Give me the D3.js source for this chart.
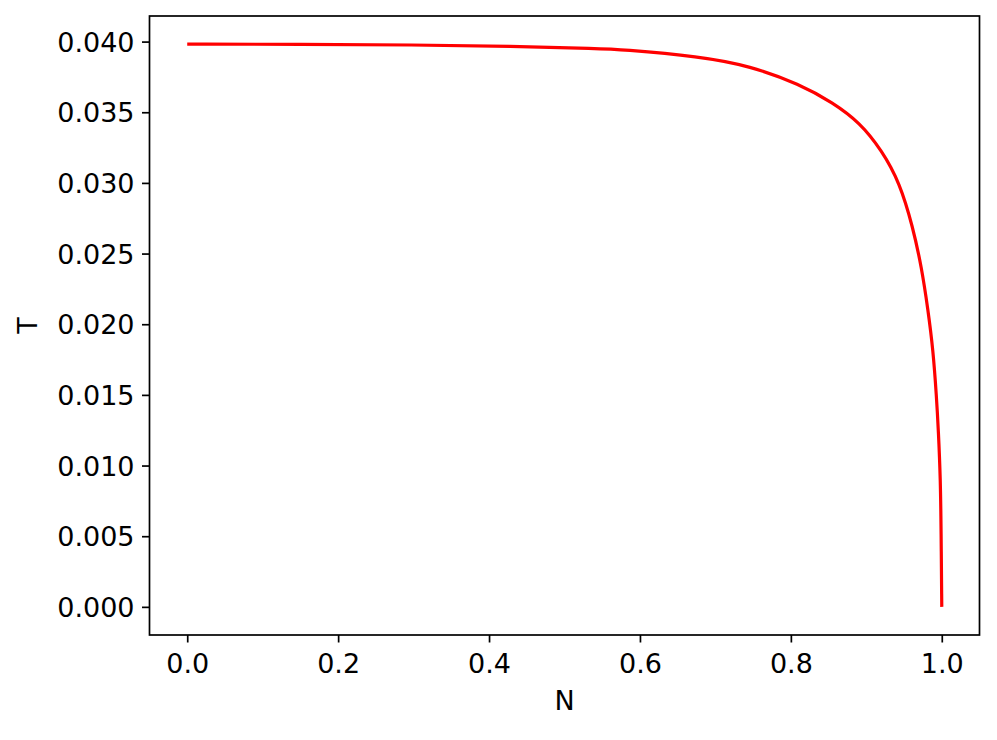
<!DOCTYPE html>
<html>
<head>
<meta charset="utf-8">
<script src="https://cdn.jsdelivr.net/npm/d3@7"></script>
<style>
  html, body { margin: 0; padding: 0; background: #fff; }
  svg { display: block; }
  text { font-family: "DejaVu Sans", sans-serif; fill: #000; }
</style>
</head>
<body>
<svg id="chart" width="997" height="740"></svg>
<script>
// Values
const nValues = [0.0, 0.15, 0.30, 0.43, 0.547, 0.5735, 0.6795, 0.7457, 0.8119, 0.8556, 0.8914, 0.9205, 0.9444, 0.9616, 0.9731, 0.9818, 0.9885, 0.9930, 0.9955, 0.9983, 0.9991, 1.0];
const tValues = [0.03982, 0.03981, 0.03977, 0.03967, 0.03950, 0.03945, 0.03894, 0.03828, 0.03698, 0.03568, 0.03427, 0.03230, 0.03000, 0.02688, 0.02407, 0.02101, 0.01817, 0.01487, 0.01251, 0.00897, 0.00543, 0.0];
const xTicks = [0.0, 0.2, 0.4, 0.6, 0.8, 1.0];
const yTicks = [0.000, 0.005, 0.010, 0.015, 0.020, 0.025, 0.030, 0.035, 0.040];
const xLabel = "N";
const yLabel = "T";

(function () {
const data = nValues.map((n, i) => ({ n, t: tValues[i] }));

const pLeft = 149.5, pRight = 979.5, pTop = 16, pBottom = 635;
const fontSize = 27;
const tickLen = 7.5, pad = 7.5;

function padded(ext) {
  const d = (ext[1] - ext[0]) * 0.05;
  return [ext[0] - d, ext[1] + d];
}

const x = d3.scaleLinear().domain(padded(d3.extent(nValues))).range([pLeft, pRight]);
const y = d3.scaleLinear().domain(padded(d3.extent(tValues))).range([pBottom, pTop]);

const svg = d3.select("#chart");

// Line
const line = d3.line()
  .x(d => x(d.n))
  .y(d => y(d.t))
  .curve(d3.curveBasis);

svg.append("path")
  .datum(data)
  .attr("d", line)
  .attr("fill", "none")
  .attr("stroke", "#ff0000")
  .attr("stroke-width", 3.2);

// Axes
const xAxis = d3.axisBottom(x).tickValues(xTicks).tickFormat(d3.format(".1f"))
  .tickSize(tickLen).tickPadding(pad).tickSizeOuter(0);
const yAxis = d3.axisLeft(y).tickValues(yTicks).tickFormat(d3.format(".3f"))
  .tickSize(tickLen).tickPadding(pad).tickSizeOuter(0);

const gx = svg.append("g").attr("transform", `translate(0,${pBottom})`).call(xAxis);
const gy = svg.append("g").attr("transform", `translate(${pLeft},0)`).call(yAxis);

[gx, gy].forEach(g => {
  g.select(".domain").remove();
  g.selectAll(".tick line").attr("stroke", "#000").attr("stroke-width", 1.7);
  g.selectAll(".tick text")
    .attr("font-family", "DejaVu Sans, sans-serif")
    .attr("font-size", fontSize)
    .attr("fill", "#000");
});
gx.selectAll(".tick text").attr("dy", null).attr("y", 673 - pBottom);
gy.selectAll(".tick text").attr("dy", "0.36em");

// Frame
svg.append("rect")
  .attr("x", pLeft).attr("y", pTop)
  .attr("width", pRight - pLeft).attr("height", pBottom - pTop)
  .attr("fill", "none").attr("stroke", "#000").attr("stroke-width", 1.7);

// Axis labels
svg.append("text")
  .attr("x", (pLeft + pRight) / 2).attr("y", 710)
  .attr("text-anchor", "middle")
  .attr("font-size", fontSize)
  .text(xLabel);

svg.append("text")
  .attr("transform", `translate(37,${(pTop + pBottom) / 2}) rotate(-90)`)
  .attr("text-anchor", "middle")
  .attr("font-size", fontSize)
  .text(yLabel);
})();
</script>
</body>
</html>
